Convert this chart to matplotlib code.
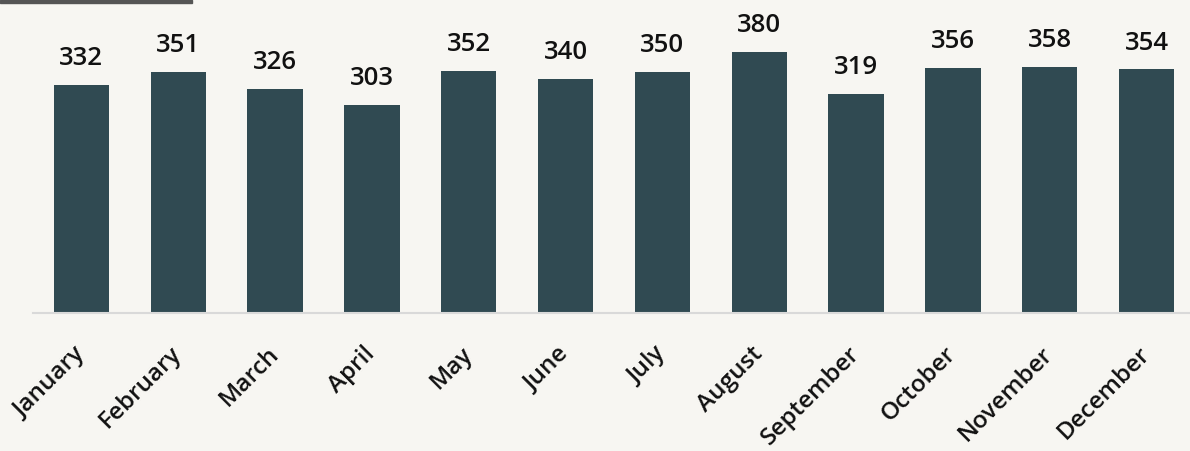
import numpy as np
import matplotlib
matplotlib.use("Agg")
import matplotlib.pyplot as plt
from matplotlib.patches import Rectangle

months = ["January", "February", "March", "April", "May", "June", "July",
          "August", "September", "October", "November", "December"]
values = [332, 351, 326, 303, 352, 340, 350, 380, 319, 356, 358, 354]

bg = "#F7F6F2"
bar_color = "#304A52"

plt.rcParams['font.family'] = ['Open Sans', 'DejaVu Sans']

fig = plt.figure(figsize=(11.9, 4.51), dpi=100, facecolor=bg)
ax = fig.add_axes([33 / 1190, 138 / 451, 1162 / 1190, 313 / 451])
ax.set_facecolor(bg)

x = np.arange(len(months))
bars = ax.bar(x, values, width=0.57, color=bar_color, zorder=2)
ax.bar_label(bars, padding=10, fontsize=18.5, fontweight='semibold', color="#111111")

ax.set_xlim(-0.5, 11.5)
ax.set_ylim(0, 455)
ax.set_yticks([])
ax.set_xticks(x)
ax.set_xticklabels(months, rotation=45, ha='right', va='center', rotation_mode='anchor',
                   fontsize=17.5, fontweight='semibold', color="#111111")
ax.tick_params(axis='x', length=0, pad=27)

for s in ['top', 'right', 'left']:
    ax.spines[s].set_visible(False)
ax.spines['bottom'].set_color("#D9D9D9")
ax.spines['bottom'].set_linewidth(1.5)

# dark strip at top-left corner
fig.patches.append(Rectangle((0, 448 / 451), 192 / 1190, 3 / 451,
                             transform=fig.transFigure, color="#555555", zorder=5))

fig.savefig("out.png", dpi=100, facecolor=bg)
